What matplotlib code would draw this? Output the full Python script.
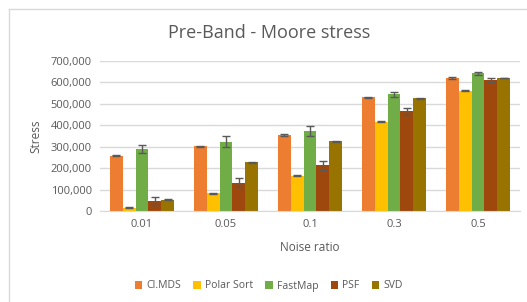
import numpy as np
import matplotlib.pyplot as plt
from matplotlib.lines import Line2D
from matplotlib.ticker import FuncFormatter

plt.rcParams['font.family'] = ['Open Sans', 'DejaVu Sans']

noise = ['0.01', '0.05', '0.1', '0.3', '0.5']
methods = ['CI.MDS', 'Polar Sort', 'FastMap', 'PSF', 'SVD']
colors = ['#ED7D31', '#FFC000', '#70AD47', '#9E480E', '#997300']

cimds = [258000, 302000, 355000, 530000, 621000]
polar = [15000, 83000, 164000, 416000, 562000]
fastmap = [290000, 324000, 374000, 545000, 642000]
psf = [47000, 133000, 213000, 465000, 610000]
svd = [52000, 228000, 325000, 526000, 621000]

cimds_err = [3000, 3000, 5000, 3000, 3000]
polar_err = [2000, 2000, 2000, 2000, 2000]
fastmap_err = [20000, 26000, 22000, 12000, 6000]
psf_err = [18000, 20000, 20000, 15000, 9000]
svd_err = [2000, 2000, 2000, 2000, 2000]

values = [cimds, polar, fastmap, psf, svd]
errors = [cimds_err, polar_err, fastmap_err, psf_err, svd_err]

fig = plt.figure(figsize=(5.27, 3.02), dpi=100)
ax = fig.add_axes([100/527, 1-211/302, 420/527, 150/302])

# chart border (only left and top show in the crop)
bx, by = 8.5/527, 1-8.5/302
fig.lines.append(Line2D([bx, bx], [0, by], transform=fig.transFigure, color='#D9D9D9', lw=1))
fig.lines.append(Line2D([bx, 1], [by, by], transform=fig.transFigure, color='#D9D9D9', lw=1))

x = np.arange(len(noise))
w = 0.152
for i, (m, vals, errs) in enumerate(zip(methods, values, errors)):
    pos = x + (i - 2) * w
    ax.bar(pos, vals, width=w, color=colors[i], label=m, zorder=2)
    ax.errorbar(pos, vals, yerr=errs, fmt='none', ecolor='#595959', elinewidth=1,
                capsize=3, capthick=1, zorder=3)

ax.set_xlim(-0.5, 4.5)
ax.set_ylim(0, 700000)
ax.set_yticks(np.arange(0, 700001, 100000))
ax.yaxis.set_major_formatter(FuncFormatter(lambda v, p: f'{int(v):,}'))
ax.set_xticks(x)
ax.set_xticklabels(noise)
ax.grid(axis='y', color='#D9D9D9', linewidth=1, zorder=0)
for s in ['top', 'right', 'left']:
    ax.spines[s].set_visible(False)
ax.spines['bottom'].set_color('#D9D9D9')
ax.tick_params(axis='both', length=0, labelsize=8, labelcolor='#595959', pad=6)

ax.set_ylabel('Stress', fontsize=8.5, color='#595959', labelpad=6)
ax.set_xlabel('Noise ratio', fontsize=8.5, color='#595959', labelpad=8)
fig.text(0.511, 1-33/302, 'Pre-Band - Moore stress', ha='center', va='center',
         fontsize=13, color='#595959')

fig.legend(loc='center', bbox_to_anchor=(0.51, 1-286/302), ncol=5, frameon=False,
           fontsize=7.5, handlelength=0.7, handleheight=0.7, handletextpad=0.4,
           columnspacing=1.2, labelcolor='#595959')

fig.savefig('out.png', dpi=100)
